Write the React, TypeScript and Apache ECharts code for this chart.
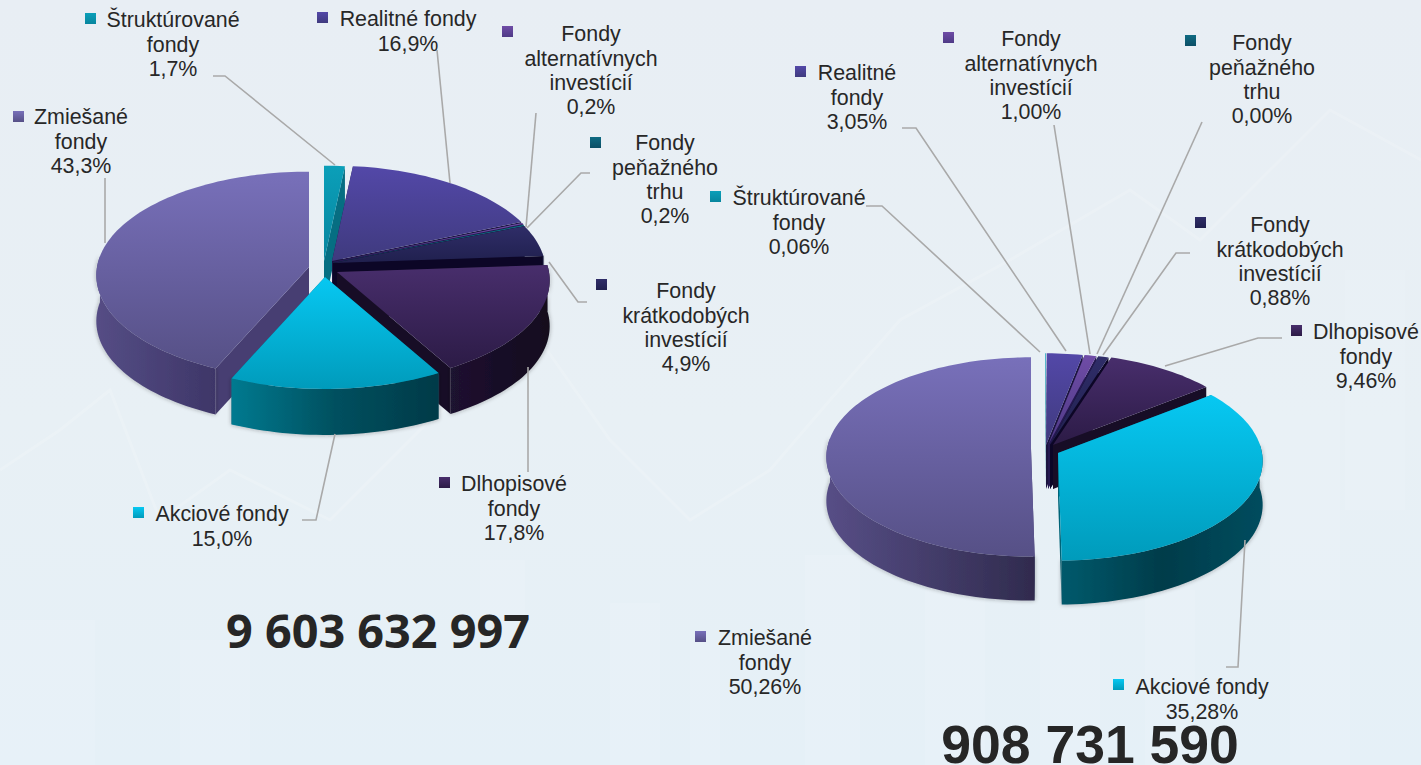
import React, { useEffect, useRef } from "react";
import * as echarts from "echarts";

const categories = [
  "Štruktúrované fondy",
  "Realitné fondy",
  "Fondy alternatívnych investícií",
  "Fondy peňažného trhu",
  "Fondy krátkodobých investícií",
  "Dlhopisové fondy",
  "Akciové fondy",
  "Zmiešané fondy",
];
const leftShares = [1.7, 16.9, 0.2, 0.2, 4.9, 17.8, 15.0, 43.3];
const rightShares = [0.06, 3.05, 1.0, 0.0, 0.88, 9.46, 35.28, 50.26];
const leftTotal = "9 603 632 997";
const rightTotal = "908 731 590";

const leftNames = [
  "Štruktúrované\nfondy",
  "Realitné fondy",
  "Fondy\nalternatívnych\ninvestícií",
  "Fondy\npeňažného\ntrhu",
  "Fondy\nkrátkodobých\ninvestícií",
  "Dlhopisové\nfondy",
  "Akciové fondy",
  "Zmiešané\nfondy",
];
const rightNames = [
  "Štruktúrované\nfondy",
  "Realitné\nfondy",
  "Fondy\nalternatívnych\ninvestícií",
  "Fondy\npeňažného\ntrhu",
  "Fondy\nkrátkodobých\ninvestícií",
  "Dlhopisové\nfondy",
  "Akciové fondy",
  "Zmiešané\nfondy",
];

// Styling per category
const topColors = [
  ["#0b9fb9", "#07859e"],
  ["#5348a8", "#3f3a7e"],
  ["#6f4ca6", "#4e3a86"],
  ["#0f6a82", "#0c4f66"],
  ["#2f2d68", "#20204e"],
  ["#482e6c", "#2c1b46"],
  ["#07c8f2", "#009bbb"],
  ["#7870ba", "#565086"],
];
const leftWalls = [
  ["#0a7c90", "#06606f"],
  ["#3a3270", "#2a2656"],
  ["#3f2f70", "#2e2458"],
  ["#0b4a5c", "#083a4a"],
  ["#161238", "#0e0a28"],
  ["#1e1230", "#120a1e"],
  ["#007a90", "#00505f", "#003a48"],
  ["#554d85", "#3e3668"],
];
const rightWalls = [
  ["#0a7c90", "#06606f"],
  ["#3a3270", "#2a2656"],
  ["#3f2f70", "#2e2458"],
  ["#0b4a5c", "#083a4a"],
  ["#161238", "#0e0a28"],
  ["#1e1230", "#120a1e"],
  ["#005a6c", "#003c4a", "#004c5e"],
  ["#574e86", "#302b4e"],
];
const cutColors = ["#066e82", "#1c1440", "#241850", "#083a4a", "#0c0626", "#170d26", "#006478", "#473e72"];

// Layout
const RX = [212, 204];
const RY = [103, 99];
const DEPTH = [46, 44];
const PERSP = 0.08;
const leftApex = [[324, 261], [332, 261], [333, 262], [333, 263], [333, 263], [337, 272], [325, 277], [309, 267]];
const rightApex = [[1045, 445], [1046, 445], [1048, 445], [1049, 445], [1050, 445], [1053, 445], [1058, 453], [1031, 449]];
const leftOrder = [0, 1, 2, 3, 4, 5, 7, 6];
const rightOrder = [0, 1, 2, 3, 4, 5, 7, 6];

const leftLabels = [
  { m: [85, 13], x: 173, y: 8 },
  { m: [317, 12], x: 408, y: 7 },
  { m: [502, 26], x: 591, y: 22 },
  { m: [590, 137], x: 665, y: 131 },
  { m: [596, 279], x: 686, y: 279 },
  { m: [439, 477], x: 514, y: 472 },
  { m: [133, 507], x: 222, y: 502 },
  { m: [13, 111], x: 81, y: 105 },
];
const rightLabels = [
  { m: [710, 191], x: 799, y: 186 },
  { m: [795, 66], x: 857, y: 61 },
  { m: [943, 32], x: 1031, y: 27 },
  { m: [1185, 35], x: 1262, y: 31 },
  { m: [1195, 217], x: 1280, y: 213 },
  { m: [1291, 325], x: 1366, y: 320 },
  { m: [1113, 679], x: 1202, y: 675 },
  { m: [695, 631], x: 765, y: 626 },
];
const leftLeaders = [
  [[213, 76], [225, 76], [335, 165]],
  [[437, 50], [450, 183]],
  [[536, 113], [526, 227]],
  [[590, 173], [581, 173], [527, 228]],
  [[549, 262], [578, 302], [587, 302]],
  [[528, 367], [528, 472]],
  [[302, 520], [316, 520], [335, 434]],
  [[105, 178], [105, 243]],
];
const rightLeaders = [
  [[866, 206], [882, 206], [1040, 352]],
  [[902, 128], [916, 128], [1066, 351]],
  [[1054, 125], [1090, 354]],
  [[1202, 122], [1097, 354]],
  [[1190, 253], [1176, 253], [1103, 355]],
  [[1282, 338], [1258, 338], [1165, 366]],
  [[1226, 667], [1238, 667], [1245, 540]],
];

const ghostRects = [
  [0, 620, 95, 145], [180, 640, 70, 125], [610, 603, 50, 162], [690, 640, 30, 125],
  [805, 555, 55, 210], [925, 590, 60, 175], [1040, 610, 60, 155], [1145, 590, 50, 175],
  [1270, 400, 70, 200], [1345, 270, 60, 240], [1290, 620, 60, 145], [480, 560, 45, 60],
];
const ghostLines = [
  [[0, 470], [60, 430], [110, 390], [160, 520], [230, 470], [330, 520], [430, 420], [540, 340], [610, 440], [690, 520], [770, 470], [830, 400], [900, 320], [1010, 260], [1130, 190], [1200, 240], [1330, 110], [1421, 160]],
];

const FONT = '"Liberation Sans", Arial, sans-serif';

function pieSeries(shares: number[], apex: number[][], order: number[], which: number, walls: string[][]) {
  const total = shares.reduce((a, b) => a + b, 0);
  const starts: number[] = [];
  let acc = 0;
  shares.forEach((s) => {
    starts.push((acc / total) * Math.PI * 2);
    acc += s;
  });
  const rx = RX[which];
  const ry = RY[which];
  const depth = DEPTH[which];
  const project = (ax: number, ay: number, t: number, dz = 0) => {
    const u = Math.sin(t);
    const v = -Math.cos(t);
    const w = 1 - PERSP * v;
    return [ax + (rx * u) / w, ay + (ry * v) / w + dz];
  };
  return {
    type: "custom",
    coordinateSystem: "none",
    silent: true,
    clip: false,
    z: 3,
    data: order.map((i) => [i, shares[i]]),
    renderItem: (_p: any, api: any) => {
      const i = api.value(0);
      const share = api.value(1);
      if (!(share > 0)) return { type: "group", children: [] };
      const [ax, ay] = apex[i];
      const a0 = starts[i];
      const a1 = a0 + (share / total) * Math.PI * 2;
      const steps = Math.max(2, Math.ceil((a1 - a0) / 0.03));
      const arc: number[][] = [];
      const low: number[][] = [];
      const frontTop: number[][] = [];
      const frontLow: number[][] = [];
      for (let s = 0; s <= steps; s++) {
        const t = a0 + ((a1 - a0) * s) / steps;
        const p = project(ax, ay, t);
        const q = project(ax, ay, t, depth);
        arc.push(p);
        low.push(q);
        if (-Math.cos(t) > -0.12) {
          frontTop.push(p);
          frontLow.push(q);
        }
      }
      const cut = (p: number[], q: number[]) => ({
        type: "polygon",
        shape: { points: [[ax, ay], p, q, [ax, ay + depth]] },
        style: { fill: cutColors[i] },
      });
      const wc = walls[i];
      const children: any[] = [cut(arc[0], low[0]), cut(arc[steps], low[steps])];
      if (frontTop.length > 1) {
        children.push({
          type: "polygon",
          shape: { points: frontTop.concat(frontLow.slice().reverse()) },
          style: {
            fill: new echarts.graphic.LinearGradient(
              0, 0, 1, 0,
              wc.map((color, k) => ({ offset: k / (wc.length - 1), color }))
            ),
            shadowBlur: 4,
            shadowColor: "rgba(40,40,40,0.4)",
          },
        });
      }
      children.push({
        type: "polygon",
        shape: { points: [[ax, ay] as number[]].concat(arc) },
        style: {
          fill: new echarts.graphic.LinearGradient(0, 0, 0, 1, [
            { offset: 0, color: topColors[i][0] },
            { offset: 1, color: topColors[i][1] },
          ]),
        },
      });
      return { type: "group", children };
    },
  };
}

function labelElements(
  shares: number[],
  names: string[],
  labels: { m: number[]; x: number; y: number }[],
  leaders: number[][][],
  digits: number
) {
  const out: any[] = [];
  leaders.forEach((pts) => {
    out.push({
      type: "polyline",
      z: 5,
      silent: true,
      shape: { points: pts },
      style: { stroke: "#a9a9a9", lineWidth: 1.6, fill: "none" },
    });
  });
  shares.forEach((s, i) => {
    const pct = s.toFixed(digits).replace(".", ",") + "%";
    const l = labels[i];
    out.push({
      type: "rect",
      z: 6,
      silent: true,
      shape: { x: l.m[0], y: l.m[1], width: 11, height: 11 },
      style: {
        fill: new echarts.graphic.LinearGradient(0, 0, 0, 1, [
          { offset: 0, color: topColors[i][0] },
          { offset: 1, color: topColors[i][1] },
        ]),
      },
    });
    out.push({
      type: "text",
      z: 6,
      silent: true,
      x: l.x,
      y: l.y,
      style: {
        text: names[i] + "\n" + pct,
        font: `21.4px ${FONT}`,
        lineHeight: 24.4,
        fill: "#272727",
        textAlign: "center",
        textVerticalAlign: "top",
      },
    });
  });
  return out;
}

export default function App() {
  const ref = useRef<HTMLDivElement>(null);
  useEffect(() => {
    const chart = echarts.init(ref.current!, undefined, { renderer: "svg" });
    const ghosts: any[] = [
      ...ghostRects.map(([x, y, width, height]) => ({
        type: "rect",
        z: 1,
        silent: true,
        shape: { x, y, width, height },
        style: { fill: "rgba(240,250,255,0.16)" },
      })),
      ...ghostLines.map((points) => ({
        type: "polyline",
        z: 1,
        silent: true,
        shape: { points },
        style: { stroke: "rgba(255,255,255,0.16)", lineWidth: 3, fill: "none" },
      })),
    ];
    chart.setOption({
      animation: false,
      backgroundColor: new echarts.graphic.LinearGradient(0, 0, 0, 1, [
        { offset: 0, color: "#e8eef4" },
        { offset: 0.55, color: "#e8f0f5" },
        { offset: 1, color: "#e5f0f7" },
      ]),
      series: [
        pieSeries(leftShares, leftApex, leftOrder, 0, leftWalls),
        pieSeries(rightShares, rightApex, rightOrder, 1, rightWalls),
      ],
      graphic: {
        elements: [
          ...ghosts,
          ...labelElements(leftShares, leftNames, leftLabels, leftLeaders, 1),
          ...labelElements(rightShares, rightNames, rightLabels, rightLeaders, 2),
          {
            type: "text",
            z: 7,
            silent: true,
            x: 378,
            y: 630,
            style: {
              text: leftTotal,
              font: 'bold 46.8px "Open Sans", sans-serif',
              fill: "#262626",
              textAlign: "center",
              textVerticalAlign: "middle",
            },
          },
          {
            type: "text",
            z: 7,
            silent: true,
            x: 1090,
            y: 744,
            style: {
              text: rightTotal,
              font: `bold 53.5px ${FONT}`,
              fill: "#262626",
              textAlign: "center",
              textVerticalAlign: "middle",
            },
          },
        ],
      },
    });
    return () => chart.dispose();
  }, []);
  return (
    <div
      ref={ref}
      data-categories={categories.length}
      style={{ position: "absolute", left: 0, top: 0, width: 1421, height: 765 }}
    />
  );
}
